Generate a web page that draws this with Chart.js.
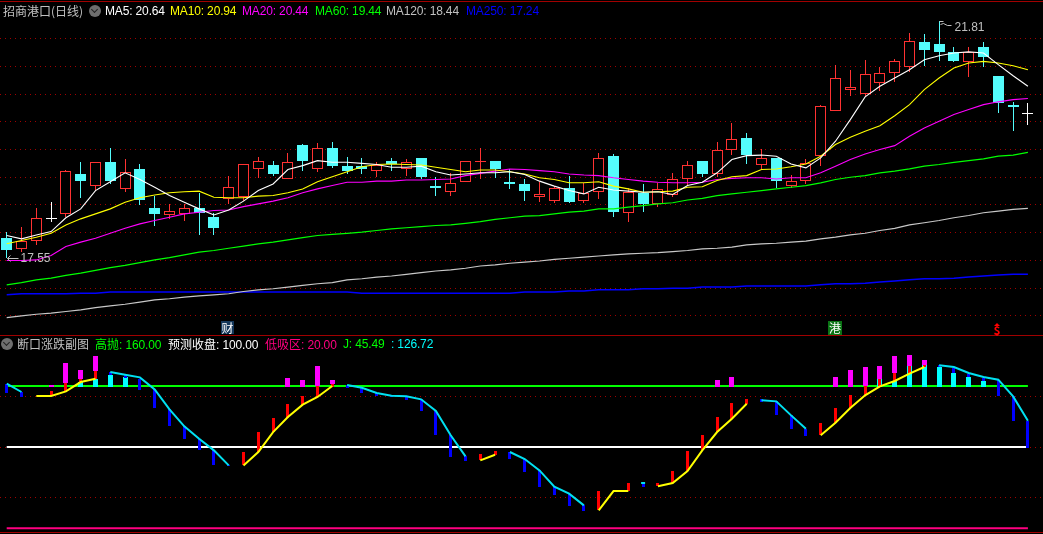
<!DOCTYPE html>
<html>
<head>
<meta charset="utf-8">
<title>招商港口 (日线)</title>
<script src="https://cdn.jsdelivr.net/npm/chart.js@4/dist/chart.umd.js"></script>
<style>
  html, body { margin: 0; padding: 0; background: #000; width: 1043px; height: 534px; overflow: hidden; }
  canvas { position: absolute; left: 0; display: block; }
  .rule { position: absolute; left: 0; width: 1043px; height: 1px; background: #a00000; }
  .txt { position: absolute; white-space: nowrap; font: 12px/16px "Liberation Sans", "Noto Sans CJK SC", sans-serif; letter-spacing: -0.15px; }
  .cjk { font-family: "Noto Sans CJK SC", sans-serif; font-size: 12px; letter-spacing: 0; }
  .btn { position: absolute; width: 12px; height: 12px; border-radius: 50%; background: #6e6e6e; }
  .btn::after { content: ""; position: absolute; left: 3px; top: 2px; width: 4px; height: 4px; border-right: 1px solid #222; border-bottom: 1px solid #222; transform: rotate(45deg); }
  .tag { position: absolute; color: #fff; text-align: center; font: 12px/13px "Noto Sans CJK SC", sans-serif; }
  .caret { position: absolute; width: 0; height: 0; border-left: 3px solid transparent; border-right: 3px solid transparent; border-bottom: 3px solid #f00; }
</style>
</head>
<body>
<canvas id="priceChart" width="1043" height="335" style="top:0"></canvas>
<canvas id="subChart" width="1043" height="199" style="top:335px"></canvas>

<div class="rule" style="top:1px"></div>
<div class="rule" style="top:335px"></div>
<div class="rule" style="top:532px"></div>

<span class="txt cjk" style="left:3px;top:3px;color:#c0c0c0">招商港口(日线)</span>
<div class="btn" style="left:89px;top:5px"></div>
<span class="txt" style="left:105px;top:3px;color:#fff">MA5: 20.64</span>
<span class="txt" style="left:170px;top:3px;color:#ff0">MA10: 20.94</span>
<span class="txt" style="left:242px;top:3px;color:#f0f">MA20: 20.44</span>
<span class="txt" style="left:315px;top:3px;color:#0f0">MA60: 19.44</span>
<span class="txt" style="left:386px;top:3px;color:#c0c0c0">MA120: 18.44</span>
<span class="txt" style="left:466px;top:3px;color:#00f">MA250: 17.24</span>

<span class="tag" style="left:221px;top:321px;width:13px;height:13px;background:#14375a">财</span>
<span class="tag" style="left:828px;top:321px;width:14px;height:14px;background:#0a7414">港</span>
<div class="caret" style="left:994px;top:323px"></div>
<span class="tag" style="left:991px;top:323px;width:12px;height:12px;color:#f00;font-weight:bold">$</span>

<div class="btn" style="left:1px;top:338px"></div>
<span class="txt cjk" style="left:17px;top:336px;color:#c0c0c0">断口涨跌副图</span>
<span class="txt" style="left:95px;top:336px;color:#0f0"><span class="cjk">高抛</span>: 160.00</span>
<span class="txt" style="left:168px;top:336px;color:#fff"><span class="cjk">预测收盘</span>: 100.00</span>
<span class="txt" style="left:265px;top:336px;color:#ff0080"><span class="cjk">低吸区</span>: 20.00</span>
<span class="txt" style="left:343px;top:336px;color:#0f0">J: 45.49</span>
<span class="txt" style="left:391px;top:336px;color:#0ff">: 126.72</span>

<script>
// daily candles
const opens = [
  17.90, 17.70, 17.85, 18.27, 18.33, 19.05, 18.84, 19.28, 18.78, 19.15,
  18.44, 18.32, 18.33, 18.44, 18.28, 18.61, 18.65, 19.14, 19.23, 18.96,
  19.59, 19.14, 19.52, 19.20, 19.21, 19.12, 19.29, 19.14, 19.35, 18.85,
  18.73, 18.91, 19.28, 19.29, 18.92, 18.87, 18.64, 18.58, 18.81, 18.57,
  18.73, 19.39, 18.35, 18.72, 18.52, 18.68, 18.96, 19.30, 19.05, 19.50,
  19.71, 19.23, 19.35, 18.85, 18.94, 19.38, 20.20, 20.57, 20.50, 20.70,
  20.88, 20.99, 21.44, 21.41, 21.25, 21.08, 21.35, 20.83, 20.31, 20.16
];
const closes = [
  17.68, 17.85, 18.27, 18.27, 19.11, 18.94, 19.27, 18.94, 19.10, 18.59,
  18.34, 18.39, 18.44, 18.35, 18.08, 18.82, 19.24, 19.29, 19.06, 19.27,
  19.30, 19.53, 19.21, 19.12, 19.15, 19.23, 19.24, 19.27, 19.01, 18.81,
  18.90, 19.29, 19.29, 19.14, 18.87, 18.76, 18.69, 18.81, 18.56, 18.72,
  19.35, 18.38, 18.73, 18.52, 18.79, 18.97, 19.22, 19.06, 19.49, 19.69,
  19.41, 19.35, 18.94, 18.93, 19.26, 20.28, 20.79, 20.63, 20.86, 20.88,
  21.10, 21.46, 21.30, 21.25, 21.10, 21.26, 21.17, 20.33, 20.27, 20.16
];
const highs = [
  18.01, 18.10, 18.44, 18.55, 19.13, 19.28, 19.27, 19.52, 19.33, 19.24,
  18.66, 18.52, 18.52, 18.72, 18.36, 19.03, 19.24, 19.37, 19.30, 19.44,
  19.60, 19.62, 19.64, 19.37, 19.35, 19.27, 19.35, 19.33, 19.35, 19.01,
  19.08, 19.29, 19.52, 19.29, 19.14, 18.96, 18.92, 18.85, 19.03, 18.89,
  19.44, 19.42, 18.81, 18.87, 18.89, 19.08, 19.30, 19.30, 19.64, 19.98,
  19.79, 19.51, 19.35, 19.04, 19.33, 20.30, 21.02, 20.94, 21.11, 20.98,
  21.13, 21.61, 21.59, 21.81, 21.35, 21.34, 21.44, 20.83, 20.36, 20.33
];
const lows = [
  17.55, 17.66, 17.78, 18.19, 18.28, 18.63, 18.76, 18.87, 18.74, 18.50,
  18.13, 18.25, 18.22, 17.96, 17.95, 18.52, 18.57, 18.99, 19.03, 18.96,
  19.12, 19.10, 19.16, 19.05, 19.05, 19.01, 19.12, 19.03, 18.97, 18.67,
  18.67, 18.91, 18.97, 18.99, 18.78, 18.58, 18.56, 18.54, 18.54, 18.54,
  18.60, 18.29, 18.20, 18.38, 18.47, 18.65, 18.84, 19.00, 19.01, 19.41,
  19.24, 19.15, 18.81, 18.81, 18.87, 19.21, 20.20, 20.47, 20.47, 20.55,
  20.72, 20.90, 21.01, 21.10, 21.07, 20.81, 20.99, 20.16, 19.84, 19.95
];

// moving averages
const ma5 = [
  17.95, 17.89, 17.96, 18.02, 18.27, 18.43, 18.76, 18.92, 19.08, 18.96,
  18.82, 18.67, 18.55, 18.43, 18.32, 18.41, 18.57, 18.76, 18.88, 19.14,
  19.21, 19.30, 19.27, 19.27, 19.25, 19.23, 19.18, 19.18, 19.20, 19.10,
  19.04, 19.06, 19.08, 19.08, 19.10, 19.05, 18.93, 18.84, 18.76, 18.70,
  18.82, 18.77, 18.75, 18.73, 18.74, 18.69, 18.85, 18.91, 19.08, 19.32,
  19.39, 19.40, 19.38, 19.24, 19.17, 19.35, 19.65, 20.04, 20.45, 20.64,
  20.79, 20.94, 21.12, 21.19, 21.24, 21.26, 21.24, 21.03, 20.83, 20.64
];
const ma10 = [
  17.80, 17.86, 17.92, 17.99, 18.14, 18.25, 18.34, 18.43, 18.55, 18.63,
  18.68, 18.72, 18.74, 18.75, 18.64, 18.63, 18.63, 18.66, 18.67, 18.72,
  18.79, 18.92, 19.01, 19.10, 19.19, 19.23, 19.24, 19.23, 19.22, 19.18,
  19.14, 19.10, 19.13, 19.13, 19.10, 19.06, 18.99, 18.96, 18.90, 18.90,
  18.92, 18.84, 18.79, 18.73, 18.74, 18.75, 18.82, 18.83, 18.94, 19.01,
  19.03, 19.14, 19.15, 19.19, 19.24, 19.38, 19.59, 19.72, 19.83, 19.93,
  20.11, 20.31, 20.58, 20.79, 20.97, 21.06, 21.09, 21.06, 21.01, 20.94
];
const ma20 = [
  17.50, 17.50, 17.51, 17.59, 17.75, 17.83, 17.90, 17.99, 18.08, 18.16,
  18.22, 18.28, 18.34, 18.37, 18.40, 18.41, 18.47, 18.52, 18.57, 18.63,
  18.72, 18.79, 18.85, 18.91, 18.91, 18.93, 18.93, 18.95, 18.95, 18.96,
  18.97, 19.03, 19.07, 19.11, 19.15, 19.14, 19.12, 19.10, 19.06, 19.04,
  19.03, 18.99, 18.96, 18.93, 18.91, 18.90, 18.90, 18.91, 18.96, 18.98,
  18.99, 18.99, 18.97, 18.99, 18.99, 19.08, 19.20, 19.32, 19.42, 19.50,
  19.57, 19.74, 19.89, 20.01, 20.13, 20.22, 20.31, 20.36, 20.40, 20.42
];
const ma60 = [
  17.06, 17.10, 17.15, 17.18, 17.23, 17.27, 17.32, 17.37, 17.41, 17.46,
  17.51, 17.55, 17.60, 17.65, 17.68, 17.72, 17.76, 17.80, 17.83, 17.87,
  17.91, 17.95, 17.97, 17.99, 18.01, 18.04, 18.07, 18.09, 18.11, 18.13,
  18.14, 18.17, 18.20, 18.24, 18.27, 18.30, 18.31, 18.34, 18.37, 18.39,
  18.43, 18.43, 18.46, 18.49, 18.52, 18.54, 18.59, 18.62, 18.67, 18.70,
  18.73, 18.76, 18.79, 18.82, 18.85, 18.90, 18.96, 19.00, 19.03, 19.08,
  19.11, 19.15, 19.20, 19.23, 19.27, 19.30, 19.33, 19.38, 19.40, 19.45
];
const ma120 = [
  16.47, 16.50, 16.53, 16.55, 16.58, 16.61, 16.65, 16.68, 16.71, 16.75,
  16.79, 16.81, 16.84, 16.86, 16.88, 16.90, 16.94, 16.97, 16.99, 17.02,
  17.05, 17.08, 17.10, 17.15, 17.17, 17.20, 17.22, 17.25, 17.28, 17.31,
  17.33, 17.36, 17.40, 17.42, 17.45, 17.47, 17.49, 17.52, 17.54, 17.56,
  17.58, 17.60, 17.62, 17.63, 17.64, 17.66, 17.68, 17.71, 17.72, 17.74,
  17.78, 17.80, 17.81, 17.83, 17.85, 17.89, 17.92, 17.96, 17.99, 18.04,
  18.08, 18.14, 18.18, 18.22, 18.27, 18.31, 18.36, 18.39, 18.42, 18.44
];
const ma250 = [
  16.88, 16.90, 16.90, 16.90, 16.90, 16.91, 16.91, 16.93, 16.93, 16.93,
  16.93, 16.93, 16.93, 16.93, 16.93, 16.93, 16.93, 16.93, 16.93, 16.93,
  16.93, 16.93, 16.93, 16.93, 16.91, 16.91, 16.91, 16.91, 16.91, 16.91,
  16.91, 16.91, 16.91, 16.91, 16.91, 16.93, 16.93, 16.93, 16.95, 16.95,
  16.97, 16.97, 16.97, 16.99, 16.99, 17.00, 17.00, 17.02, 17.02, 17.02,
  17.04, 17.04, 17.04, 17.04, 17.04, 17.06, 17.08, 17.08, 17.09, 17.11,
  17.13, 17.15, 17.17, 17.17, 17.18, 17.20, 17.22, 17.24, 17.25, 17.25
];
const priceTicks = [16.5, 17, 17.5, 18, 18.5, 19, 19.5, 20, 20.5, 21, 21.5];
const highMark = { index: 63, value: 21.81, label: "21.81" };
const lowMark = { index: 0, value: 17.55, label: "17.55" };

// sub chart, J line in two colours (null = the other colour or a gap)
const jUp = [
  null, null, 150.1, 150.1, 154.7, 163.9, 167.2, null, null, null,
  null, null, null, null, null, null, 81.9, 95.1, 114.7, 129.5,
  141.6, 149.2, 160.0, null, null, null, null, null, null, null,
  null, null, 86.9, 92.4, null, null, null, null, null, null,
  37.7, 56.7, 56.7, null, 61.3, 64.6, 76.4, 96.7, 114.7, 127.8,
  142.6, null, null, null, null, 111.5, 123.9, 138.3, 150.8, 159.7,
  164.9, 172.1, 178.7, null, null, null, null, null, null, null
];
const jDown = [
  162.3, 154.1, null, null, null, null, null, 173.8, 171.1, 168.5,
  156.7, 137.0, 120.3, 108.2, 96.7, 81.9, null, null, null, null,
  null, null, null, 161.0, 158.3, 153.1, 150.5, 149.8, 146.9, 135.4,
  111.5, 90.8, null, null, 95.1, 88.2, 77.0, 61.0, 54.1, 42.6,
  null, null, null, 64.6, null, null, null, null, null, null,
  null, 145.9, 144.9, 131.1, 118.0, null, null, null, null, null,
  null, null, null, 180.3, 178.7, 172.8, 168.8, 166.2, 149.8, 125.9
];
// [candle index, top, bottom]
const blueBars = [
  [0, 162.3, 153.4], [1, 154.1, 148.8], [7, 173.8, 171.1], [8, 170.5, 167.9], [9, 167.2, 155.7],
  [10, 156.7, 138.0], [11, 137.0, 120.3], [12, 120.3, 107.5], [13, 108.2, 96.7], [14, 96.7, 82.3],
  [15, 82.6, 81.3], [23, 161.0, 157.7], [24, 158.3, 153.1], [25, 153.1, 150.1], [26, 150.8, 149.5],
  [27, 149.8, 145.9], [28, 146.9, 135.1], [29, 135.4, 111.8], [30, 111.5, 90.1], [31, 90.8, 86.2],
  [34, 95.1, 87.8], [35, 88.2, 75.1], [36, 77.0, 60.6], [37, 61.0, 52.8], [38, 54.1, 41.6],
  [39, 42.6, 37.0], [43, 63.9, 60.6], [51, 146.9, 144.2], [52, 144.9, 131.1], [53, 131.1, 117.4],
  [54, 118.0, 110.5], [63, 180.3, 178.7], [64, 178.0, 172.8], [65, 172.1, 168.8], [66, 168.2, 165.2],
  [67, 165.6, 149.8], [68, 149.8, 125.5], [69, 125.9, 98.7]
];
const redBars = [
  [3, 154.7, 150.1], [4, 163.3, 154.7], [5, 167.9, 162.9], [6, 174.7, 167.2], [16, 94.7, 81.9],
  [17, 114.4, 95.1], [18, 128.2, 114.7], [19, 141.9, 128.5], [20, 149.8, 141.6], [21, 160.0, 149.2],
  [22, 161.6, 159.3], [32, 92.8, 86.9], [33, 95.7, 92.4], [40, 56.4, 37.7], [42, 64.2, 56.7],
  [44, 64.9, 61.3], [45, 76.0, 64.6], [46, 95.7, 76.4], [47, 111.5, 96.7], [48, 129.2, 114.7],
  [49, 142.9, 127.8], [50, 146.9, 142.6], [55, 123.3, 111.5], [56, 138.0, 123.9], [57, 150.8, 138.3],
  [58, 159.7, 150.8], [59, 166.5, 159.7], [60, 173.1, 164.9], [61, 179.3, 172.1], [62, 181.0, 178.7]
];
const magentaBars = [
  [3, 161.3, 158.7], [4, 182.3, 163.3], [5, 175.4, 167.2], [6, 189.2, 174.7], [19, 167.5, 159.0],
  [20, 165.6, 159.0], [21, 179.3, 160.0], [22, 165.6, 161.6], [48, 165.6, 159.0], [49, 168.5, 159.0],
  [56, 168.5, 159.0], [57, 175.4, 159.0], [58, 178.3, 159.7], [59, 179.3, 166.5], [60, 189.2, 173.1],
  [61, 190.2, 179.3], [62, 185.2, 181.0]
];
const cyanBars = [
  [5, 163.9, 159.0], [6, 167.2, 159.0], [7, 171.1, 159.0], [8, 168.5, 159.0], [59, 166.5, 159.0],
  [60, 164.9, 159.0], [61, 179.3, 159.0], [62, 181.0, 159.0], [63, 178.7, 159.0], [64, 173.1, 159.0],
  [65, 168.8, 159.0], [66, 165.2, 159.0]
];
const highLevel = 160;
const midLevel = 100;
const lowLevel = 20;
const subTicks = [50, 100, 150];

const RED = "#ff3232";
const CYAN = "#54fcfc";
const GRID = "#a00000";

// the terminal draws aliased, so snap bars to whole pixels
const drawBar = Chart.BarElement.prototype.draw;
Chart.BarElement.prototype.draw = function (ctx) {
  const { x, y, base } = this;
  this.x = Math.floor(x) + 0.5;
  this.y = Math.round(y);
  this.base = Math.round(base);
  if (this.y === this.base) this.base = this.y + 1;
  drawBar.call(this, ctx);
  this.x = x;
  this.y = y;
  this.base = base;
};

const candleColor = (i) => {
  if (closes[i] > opens[i]) return RED;
  if (closes[i] < opens[i]) return CYAN;
  return "#ffffff";
};
const candleFill = (i) => (closes[i] > opens[i] ? "#000000" : candleColor(i));
const points = (values) => values.map((v, i) => ({ x: i, y: v }));
const barPoints = (list) => list.map(([i, top, bottom]) => ({ x: i, y: [bottom, top] }));

const lineSet = (values, color, width) => ({
  type: "line",
  data: points(values),
  borderColor: color,
  borderWidth: width,
  pointRadius: 0,
  tension: 0,
  spanGaps: false,
});
const barSet = (data, color, thickness) => ({
  type: "bar",
  data: data,
  backgroundColor: color,
  borderWidth: 0,
  barThickness: thickness,
  grouped: false,
  inflateAmount: 0,
});

const xScale = {
  type: "linear",
  display: false,
  offset: false,
  min: -0.4527,
  max: 70.02,
};
const yScale = (min, max, tickValues) => ({
  type: "linear",
  min: min,
  max: max,
  afterBuildTicks: (axis) => {
    axis.ticks = tickValues.map((v) => ({ value: v }));
  },
  ticks: { display: false },
  grid: { color: GRID, drawTicks: false },
  border: { display: false, dash: [1, 4] },
});
const baseOptions = (yAxis) => ({
  responsive: false,
  animation: false,
  events: [],
  layout: { padding: 0 },
  plugins: { legend: { display: false }, tooltip: { enabled: false } },
  scales: { x: xScale, y: yAxis },
});

// high and low of the visible range, with their little pointers
const extremeMarks = {
  id: "extremeMarks",
  afterDatasetsDraw(chart) {
    const { ctx, scales } = chart;
    ctx.save();
    ctx.strokeStyle = "#c0c0c0";
    ctx.fillStyle = "#c0c0c0";
    ctx.lineWidth = 1;
    ctx.font = '12px "Liberation Sans", sans-serif';
    ctx.textBaseline = "middle";

    let x = Math.floor(scales.x.getPixelForValue(highMark.index)) + 0.5;
    let y = Math.round(scales.y.getPixelForValue(highMark.value)) + 0.5;
    ctx.beginPath();
    ctx.moveTo(x, y);
    ctx.lineTo(x + 4, y);
    ctx.moveTo(x + 1, y + 3);
    ctx.lineTo(x + 4, y + 2);
    ctx.lineTo(x + 8, y + 4);
    ctx.lineTo(x + 12, y + 4);
    ctx.stroke();
    ctx.fillText(highMark.label, x + 15, y + 6);

    x = Math.floor(scales.x.getPixelForValue(lowMark.index)) + 0.5;
    y = Math.round(scales.y.getPixelForValue(lowMark.value)) + 0.5;
    ctx.beginPath();
    ctx.moveTo(x + 4, y - 3);
    ctx.lineTo(x + 1, y);
    ctx.lineTo(x + 12, y);
    ctx.moveTo(x + 1, y);
    ctx.lineTo(x + 4, y + 3);
    ctx.stroke();
    ctx.fillText(lowMark.label, x + 14, y);
    ctx.restore();
  },
};

new Chart(document.getElementById("priceChart"), {
  type: "bar",
  data: {
    datasets: [
      lineSet(ma5, "#ffffff", 1.1),
      lineSet(ma10, "#ffff00", 1.1),
      lineSet(ma20, "#ff00ff", 1.1),
      lineSet(ma60, "#00ff00", 1.2),
      lineSet(ma120, "#c8c8c8", 1.2),
      lineSet(ma250, "#0000ff", 1.5),
      {
        ...barSet(opens.map((o, i) => ({ x: i, y: [o, closes[i]] })), opens.map((o, i) => candleFill(i)), 11),
        borderColor: opens.map((o, i) => candleColor(i)),
        borderWidth: 1,
        borderSkipped: false,
      },
      barSet(lows.map((l, i) => ({ x: i, y: [l, highs[i]] })), lows.map((l, i) => candleColor(i)), 1),
    ],
  },
  options: baseOptions(yScale(16.156, 22.196, priceTicks)),
  plugins: [extremeMarks],
});

const jLine = (values, color) => ({
  ...lineSet(values, color, 2),
  // a lone point has no segment to draw, show it as a short dash
  pointStyle: "line",
  pointRadius: (c) => {
    const i = c.dataIndex;
    const lone = values[i] !== null && values[i - 1] == null && values[i + 1] == null;
    return lone ? 2 : 0;
  },
});

new Chart(document.getElementById("subChart"), {
  type: "bar",
  data: {
    datasets: [
      jLine(jDown, "#00e0f0"),
      jLine(jUp, "#ffff00"),
      barSet(barPoints(magentaBars), "#ff00ff", 5),
      barSet(barPoints(redBars), "#ff0000", 3),
      barSet(barPoints(blueBars), "#0000ff", 3),
      barSet(barPoints(cyanBars), "#00ffff", 5),
      lineSet(opens.map(() => highLevel), "#00ff00", 2),
      lineSet(opens.map(() => midLevel), "#ffffff", 2),
      lineSet(opens.map(() => lowLevel), "#ff0080", 2),
    ],
  },
  options: baseOptions(yScale(14.43, 210.16, subTicks)),
});
</script>
</body>
</html>
